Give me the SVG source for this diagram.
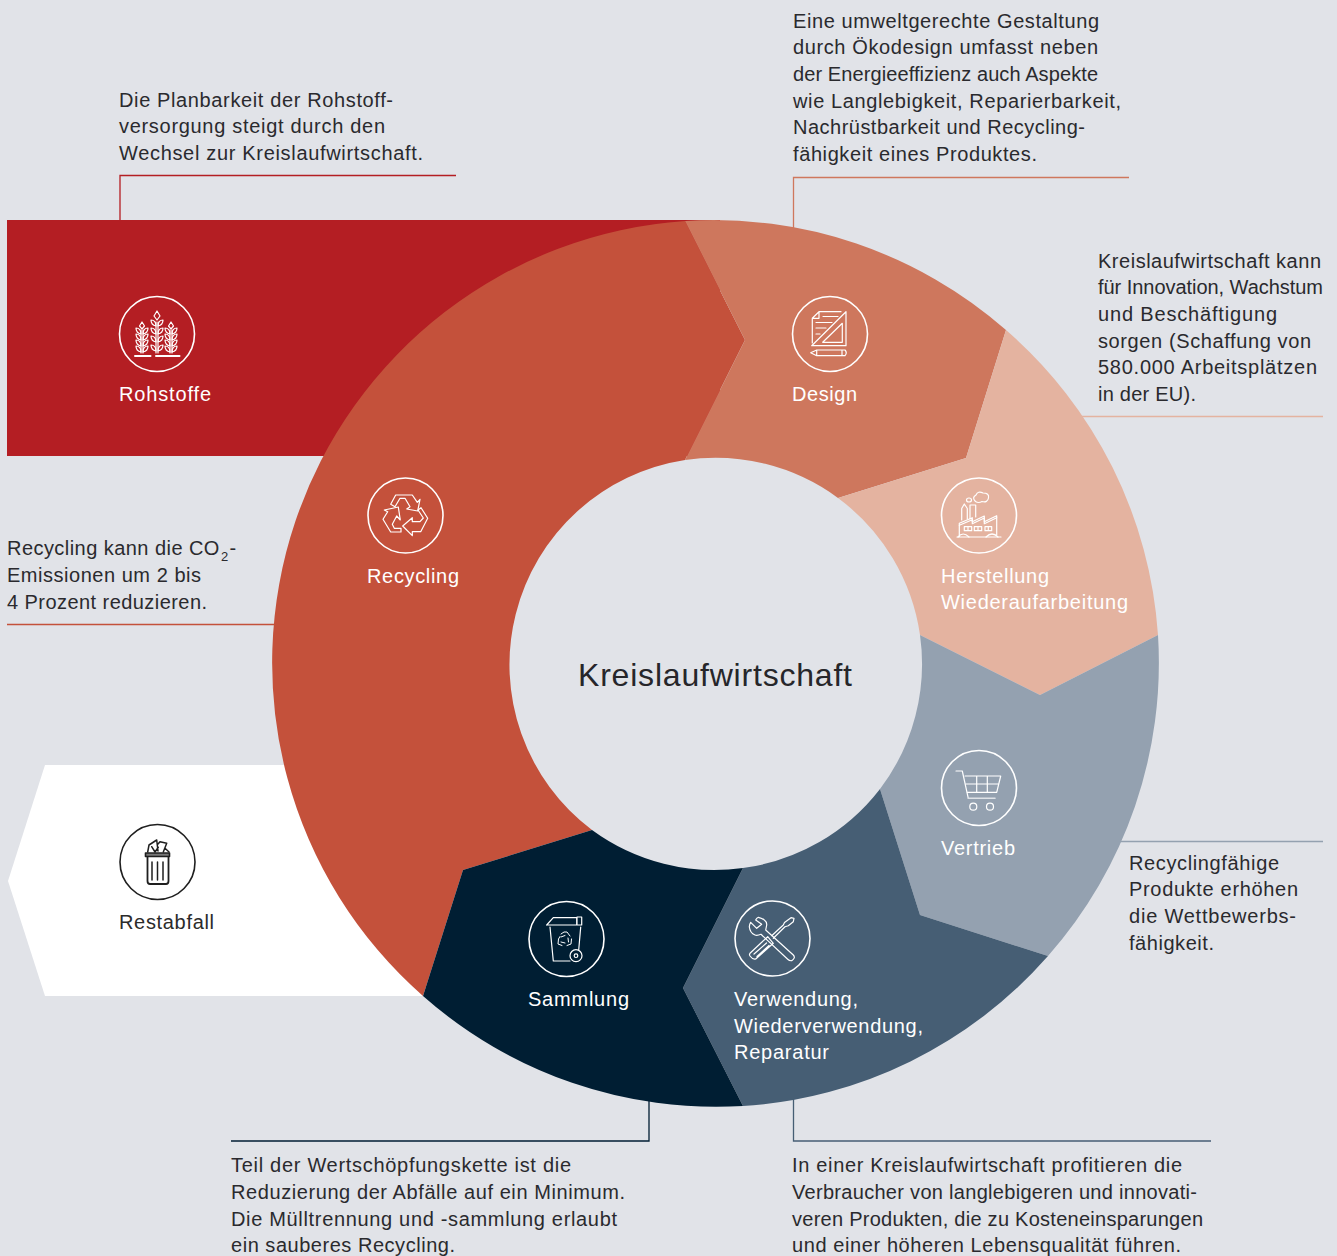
<svg xmlns="http://www.w3.org/2000/svg" width="1337" height="1256" viewBox="0 0 1337 1256">
<style>
text{font-family:"Liberation Sans",Arial,sans-serif;font-size:20px;fill:#2a2a2e}
.w{fill:#fff}
.k{fill:#2b2b2b}
.ic{fill:none;stroke:#fff;stroke-width:1.2;stroke-linejoin:round;stroke-linecap:round}
.ring{fill:none;stroke:#fff;stroke-width:1.6}
.dk{stroke:#1f1f1f}
.ln{fill:none;stroke-width:1.3}
</style>
<defs>
<g id="leaves"><path d="M-1 0q-5-1-5-6 5 0 5 6zM1 0q5-1 5-6-5 0-5 6z"/></g>
</defs>
<rect width="1337" height="1256" fill="#e1e3e8"/>
<g id="connectors">
<path class="ln" stroke="#b41e23" d="M120 220V175.500H456"/>
<path class="ln" stroke="#cf775d" d="M793.500 228V177.500H1129"/>
<path class="ln" stroke="#e4b3a0" d="M1080 416.500H1323"/>
<path class="ln" stroke="#c4513b" d="M7 624.500H280"/>
<path class="ln" stroke="#94a1b0" d="M1120 841.500H1323"/>
<path class="ln" stroke="#001e33" d="M649 1100V1141H231"/>
<path class="ln" stroke="#465e74" d="M793.500 1098V1141H1211"/>
</g>
<g id="rohstoffe">
<path fill="#b41e23" d="M7 220H720V456H7Z"/>
<circle class="ring" cx="157" cy="334" r="37.500"/>
<g class="ic" stroke-width="1">
<path d="M141 353V330M143 353V330M156 353V322M158 353V322M170 353V330M172 353V330"/>
<path d="M142 329l-2.500-3 2.500-4 2.500 4zM157 320l-3-4 3-5 3 5zM171 329l-2.500-3 2.500-4 2.500 4z"/>
<use href="#leaves" x="142" y="334"/><use href="#leaves" x="142" y="340"/><use href="#leaves" x="142" y="346"/><use href="#leaves" x="142" y="352"/>
<use href="#leaves" x="171" y="334"/><use href="#leaves" x="171" y="340"/><use href="#leaves" x="171" y="346"/><use href="#leaves" x="171" y="352"/>
<use href="#leaves" x="157" y="326"/><use href="#leaves" x="157" y="334"/><use href="#leaves" x="157" y="342"/><use href="#leaves" x="157" y="351"/>
<path stroke-width="2" d="M135 356H150.500M156 356H179.500"/>
</g>
<text class="w" x="119" y="401" textLength="92">Rohstoffe</text>
</g>
<g id="restabfall">
<path fill="#fff" d="M45 765H300L430 996H45L8 881Z"/>
<circle class="ring dk" cx="157.500" cy="862" r="37.500"/>
<g class="ic dk">
<path fill="#777" stroke-width="1.600" d="M145.500 853H169.500V856.500H145.500Z"/>
<path stroke-width="1.800" d="M147.500 857V881Q147.500 884 150 884H166Q168.500 884 168.500 881V857"/>
<path stroke-width="1.500" d="M152 862V880M157.500 862V880M163 862V880"/>
<path stroke-width="1.500" d="M147.700 852L149 845L156.700 840L158 851M160 841.700L166.700 843.300L163.300 852M151.700 846.700L155 852L158.300 847.300M165 848.300L169 852M158 844L160 841.700"/>
</g>
<text class="k" x="119" y="929" textLength="95">Restabfall</text>
</g>
<g id="recycling">
<path fill="#c4513b" d="M423 996A443 443 0 0 1 685 221L745 340L685 460A207 207 0 0 0 592 830L463 870Z"/>
<circle class="ring" cx="405.500" cy="515.500" r="37.500"/>
<g class="ic">
<path d="M390.700 504.300L395.700 495H412.300L417.300 502.300L420 499.300L417.700 511L406.700 509L410 506.700L405 498.300H400L395 506.700Z"/>
<path d="M384.300 510L398.300 507L400.300 520L396.700 516L392.300 524.300L394.300 528.300H401V532H390.700L383 519.300L387.700 511.700Z"/>
<path d="M421 507.700L427.700 518.300L420.700 531.700H412.300V535.700L402.700 526L412.300 517.700V521.700H420L423.300 518L418 510Z"/>
</g>
<text class="w" x="367" y="583" textLength="92">Recycling</text>
</g>
<g id="design">
<path fill="#ce775d" d="M685 221A443 443 0 0 1 1006 330L966 458L838 498A207 207 0 0 0 685 460L745 340Z"/>
<circle class="ring" cx="830" cy="334" r="37.500"/>
<g class="ic">
<path d="M819 311.700H841M819 311.700L812.300 318.300V343M812.300 318.300H819V311.700"/>
<path d="M846 311.700V345.700H811.700ZM842.300 323.300V342.300H822.700Z"/>
<path d="M823 316.500H838M816 322.500H832M816 328H826M816 334H820"/>
<path d="M810.700 352.700L816.700 350H845Q847.500 352.700 845 355.700H816.700ZM816.700 350V355.700M842 350V355.700"/>
</g>
<text class="w" x="792" y="401" textLength="65">Design</text>
</g>
<g id="herstellung">
<path fill="#e4b3a0" d="M1006 330A443 443 0 0 1 1158 635L1040 695L920 635A207 207 0 0 0 838 498L966 458Z"/>
<circle class="ring" cx="979" cy="515.500" r="37.500"/>
<g class="ic" stroke-width="1">
<path d="M957 537H1001M959.300 537V523.300L972.300 517.700V521.700L984.300 516V521.700L996.700 515.700V535"/>
<path d="M959.300 525.300L972.300 519.700V523.700L984.300 518V523.700L996.700 517.700"/>
<path d="M961.700 520V508.500L964.300 504L967.300 508.500V519M970 519V505H975.700V517"/>
<path d="M964.300 526.700H971.700V530.700H964.300ZM974.300 526.700H981.700V530.700H974.300ZM985 526.700H991.700V530.700H985ZM968 526.700V530.700M978 526.700V530.700M988.300 526.700V530.700"/>
<path d="M975.500 501.500Q971.500 497.500 976 495Q978 490.500 983 493Q989.500 493 988.500 498Q987.500 503 982 501.500Q978.500 503.500 975.500 501.500ZM966.500 500a2.500 2 0 1 1 5 0a2.500 2 0 1 1 -5 0"/>
<path d="M958 537Q963 531 969 537M986 537Q992 531 998 537"/>
</g>
<text class="w" x="941" y="583" textLength="108">Herstellung</text>
<text class="w" x="941" y="609" textLength="187">Wiederaufarbeitung</text>
</g>
<g id="vertrieb">
<path fill="#94a1b0" d="M1158 635A443 443 0 0 1 1048 956L920 915L880 789A207 207 0 0 0 920 635L1040 695Z"/>
<circle class="ring" cx="979" cy="788" r="37.500"/>
<g class="ic" stroke-width="1.100">
<path d="M956 771H962.300L968.300 798.300"/>
<path stroke="#dfe3e8" stroke-width="1.600" d="M968.300 798.300H995"/>
<path d="M965 776H1000.700L996.700 792.300H967.300M965.800 784H998.700M976.700 776V792.300M987.300 776V792.300"/>
<circle cx="973.300" cy="806.700" r="3.500"/>
<circle cx="990" cy="806.700" r="3.500"/>
</g>
<text class="w" x="941" y="855" textLength="74">Vertrieb</text>
</g>
<g id="verwendung">
<path fill="#465e74" d="M1048 956A443 443 0 0 1 743 1106L683 988L743 868A207 207 0 0 0 880 789L920 915Z"/>
<circle class="ring" cx="772.500" cy="938.500" r="37.500"/>
<g class="ic">
<path d="M758.300 917.300Q762 918 764.300 920Q767 922 766.700 925L765.700 930L793.300 955Q796 958 791.700 960.700Q789.500 961 787.700 959.300L761 934.300Q757 936 755 935Q750 933 749.300 926.700Q749.500 924 750.700 922.300L756.700 928.300L761.700 924.300L755.700 920Q756.500 918 758.300 917.300Z"/>
<path d="M791 917.700L794 918.300L793.300 921.700L788.300 925.700L785 926.700L773.300 938.300M791 917.700L784.500 922.500L783.300 925L771.700 935.700"/>
<path d="M767.700 936.700L773.300 943.300L755.700 959Q753 960 750 956Q749 954.500 750 953.300ZM754 954L766.500 943M757 956.500L769 945.500"/>
</g>
<text class="w" x="734" y="1006" textLength="124">Verwendung,</text>
<text class="w" x="734" y="1033" textLength="189">Wiederverwendung,</text>
<text class="w" x="734" y="1059" textLength="95">Reparatur</text>
</g>
<g id="sammlung">
<path fill="#001e33" d="M743 1106A443 443 0 0 1 423 996L463 870L592 830A207 207 0 0 0 743 868L683 988Z"/>
<circle class="ring" cx="566.500" cy="939" r="37.500"/>
<g class="ic">
<path d="M546.700 925L553.300 917.700H576.700V925M546.700 925H581.700V917H577V925"/>
<path d="M550 927L553.300 961H570M580.700 927L578.700 950"/>
<circle cx="576" cy="955.700" r="6"/>
<circle cx="576" cy="955.700" r="1.800"/>
<path stroke-width="1" d="M561 934L564 932H567L570 936M571.500 939L571 944L567 945.500M562 945.500L558 944L558.500 939L560 936.500M561 937L565 935.500M568 938L568.500 942M561 942L565 943"/>
</g>
<text class="w" x="528" y="1006" textLength="101">Sammlung</text>
</g>
<g id="center">
<text x="578" y="686" textLength="274" style="font-size:32px;fill:#26262a">Kreislaufwirtschaft</text>
</g>
<g id="notes">
<text x="119" y="107" textLength="274">Die Planbarkeit der Rohstoff-</text>
<text x="119" y="133" textLength="266">versorgung steigt durch den</text>
<text x="119" y="160" textLength="304">Wechsel zur Kreislaufwirtschaft.</text>
<text x="793" y="28" textLength="306">Eine umweltgerechte Gestaltung</text>
<text x="793" y="54" textLength="305">durch Ökodesign umfasst neben</text>
<text x="793" y="81" textLength="305">der Energieeffizienz auch Aspekte</text>
<text x="793" y="108" textLength="328">wie Langlebigkeit, Reparierbarkeit,</text>
<text x="793" y="134" textLength="292">Nachrüstbarkeit und Recycling-</text>
<text x="793" y="161" textLength="244">fähigkeit eines Produktes.</text>
<text x="1098" y="268" textLength="223">Kreislaufwirtschaft kann</text>
<text x="1098" y="294" textLength="225">für Innovation, Wachstum</text>
<text x="1098" y="321" textLength="179">und Beschäftigung</text>
<text x="1098" y="348" textLength="213">sorgen (Schaffung von</text>
<text x="1098" y="374" textLength="219">580.000 Arbeitsplätzen</text>
<text x="1098" y="401" textLength="98">in der EU).</text>
<text x="7" y="555" style="letter-spacing:.45px">Recycling kann die CO<tspan dy="6" dx="1" style="font-size:13px">2</tspan><tspan dy="-6" dx="1">-</tspan></text>
<text x="7" y="582" textLength="194">Emissionen um 2 bis</text>
<text x="7" y="609" textLength="200">4 Prozent reduzieren.</text>
<text x="1129" y="870" textLength="150">Recyclingfähige</text>
<text x="1129" y="896" textLength="169">Produkte erhöhen</text>
<text x="1129" y="923" textLength="167">die Wettbewerbs-</text>
<text x="1129" y="950" textLength="85">fähigkeit.</text>
<text x="231" y="1172" textLength="340">Teil der Wertschöpfungskette ist die</text>
<text x="231" y="1199" textLength="394">Reduzierung der Abfälle auf ein Minimum.</text>
<text x="231" y="1226" textLength="386">Die Mülltrennung und -sammlung erlaubt</text>
<text x="231" y="1252" textLength="224">ein sauberes Recycling.</text>
<text x="792" y="1172" textLength="390">In einer Kreislaufwirtschaft profitieren die</text>
<text x="792" y="1199" textLength="405">Verbraucher von langlebigeren und innovati-</text>
<text x="792" y="1226" textLength="411">veren Produkten, die zu Kosteneinsparungen</text>
<text x="792" y="1252" textLength="389">und einer höheren Lebensqualität führen.</text>
</g>
</svg>
